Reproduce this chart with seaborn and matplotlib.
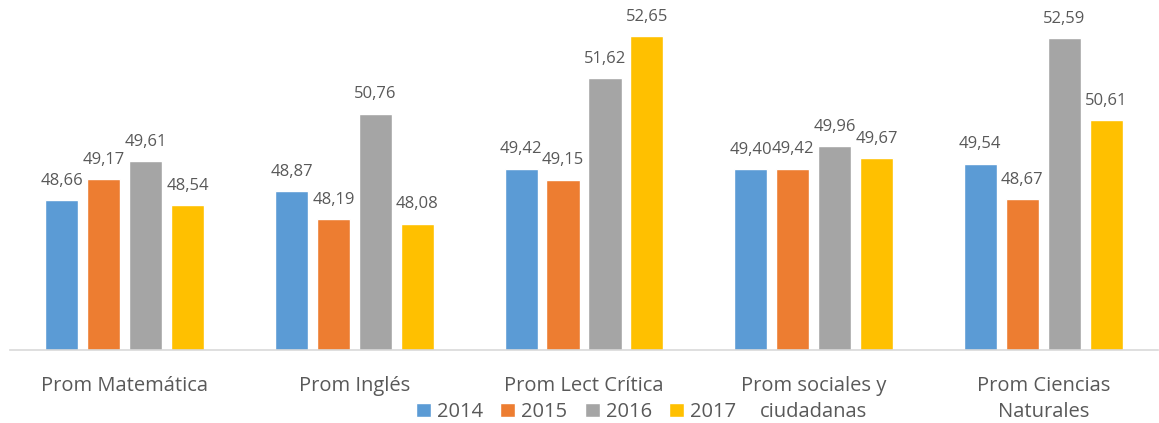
import matplotlib
matplotlib.use('Agg')
import matplotlib.pyplot as plt
import seaborn as sns
import pandas as pd
from matplotlib.patches import Patch

categories = ['Prom Matemática', 'Prom Inglés', 'Prom Lect Crítica',
              'Prom sociales y\nciudadanas', 'Prom Ciencias\nNaturales']
years = ['2014', '2015', '2016', '2017']
v2014 = [48.66, 48.87, 49.42, 49.40, 49.54]
v2015 = [49.17, 48.19, 49.15, 49.42, 48.67]
v2016 = [49.61, 50.76, 51.62, 49.96, 52.59]
v2017 = [48.54, 48.08, 52.65, 49.67, 50.61]

colors = ['#5B9BD5', '#ED7D31', '#A5A5A5', '#FFC000']

rows = []
for year, vals in zip(years, [v2014, v2015, v2016, v2017]):
    for c, v in zip(categories, vals):
        rows.append({'Categoria': c, 'Año': year, 'Valor': v})
df = pd.DataFrame(rows)

sns.set_style('white')
plt.rcParams['font.family'] = ['Open Sans', 'DejaVu Sans']
text_col = '#595959'

fig = plt.figure(figsize=(11.59, 4.23), dpi=100)
ax = fig.add_axes([10 / 1159, 1 - 350 / 423, 1148 / 1159, 349 / 423])

sns.barplot(data=df, x='Categoria', y='Valor', hue='Año', order=categories,
            hue_order=years, palette=colors, width=0.73, gap=0.21,
            ax=ax, legend=False, saturation=1)

for cont in ax.containers:
    labels = [f'{b.get_height():.2f}'.replace('.', ',') for b in cont]
    ax.bar_label(cont, labels=labels, padding=8, fontsize=12, color=text_col)

ax.set_ylim(45, 53.5)
ax.set_xlim(-0.5, 4.5)
ax.set_yticks([])
ax.set_xlabel('')
ax.set_ylabel('')
for s in ['top', 'right', 'left']:
    ax.spines[s].set_visible(False)
ax.spines['bottom'].set_color('#D9D9D9')
ax.spines['bottom'].set_linewidth(1.2)
ax.tick_params(axis='x', length=0, labelsize=14.5, labelcolor=text_col, pad=19)
for t in ax.get_xticklabels():
    t.set_linespacing(1.35)

handles = [Patch(facecolor=c, label=y) for c, y in zip(colors, years)]
fig.legend(handles=handles, loc='center', bbox_to_anchor=(0.497, 1 - 412 / 423),
           ncol=4, frameon=False, fontsize=14.5, handlelength=0.75, handleheight=0.75,
           handletextpad=0.3, columnspacing=0.85, labelcolor=text_col,
           borderpad=0.1)

fig.savefig('out.png', dpi=100)
